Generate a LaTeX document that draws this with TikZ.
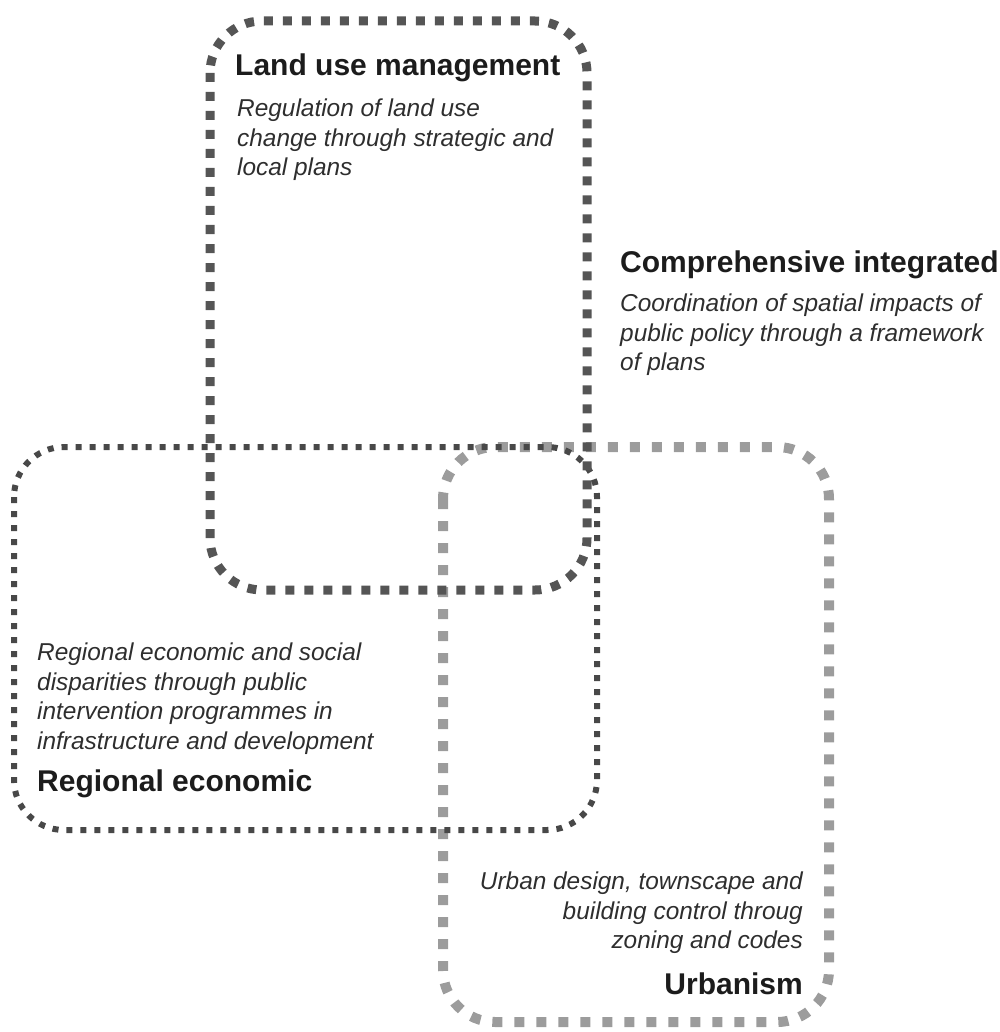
\documentclass[tikz,border=0pt]{standalone}
\usepackage{fontspec}
\setmainfont{Liberation Sans}
\usepackage{xcolor}
\definecolor{landgray}{HTML}{555555}
\definecolor{regiongray}{HTML}{484848}
\definecolor{urbangray}{HTML}{9C9C9C}
\definecolor{inkgray}{HTML}{1C1C1C}
\definecolor{descgray}{HTML}{2E2E2E}
\begin{document}
\begin{tikzpicture}[x=1pt,y=-1pt,
    title/.style={font=\bfseries\fontsize{30}{36}\selectfont,text=inkgray,inner sep=0pt},
    desc/.style={font=\itshape\fontsize{24.4}{29.5}\selectfont,text=descgray,inner sep=0pt},
    landbox/.style={draw=landgray,line width=9pt,dash pattern=on 9pt off 10pt,rounded corners=52pt},
    regionbox/.style={draw=regiongray,line width=6pt,dash pattern=on 6pt off 8pt,rounded corners=50pt},
    urbanbox/.style={draw=urbangray,line width=10pt,dash pattern=on 10pt off 12pt,rounded corners=52pt}]
      \useasboundingbox (0,0) rectangle (999,1032);
      % the three overlapping fields
      \draw[urbanbox] (443,447) rectangle (829,1022);
      \draw[regionbox] (14,447) rectangle (597,830);
      \draw[landbox] (210,21) rectangle (587,590);
      % land use management
      \node (landtitle) [title,anchor=base west] at (235,76) {Land use management};
      \node (landdesc) [desc,anchor=north west,align=left] at (237,99)
        {Regulation of land use\\change through strategic and\\local plans};
      % comprehensive integrated
      \node (comptitle) [title,anchor=base west] at (620,272) {Comprehensive integrated};
      \node (compdesc) [desc,anchor=north west,align=left] at (620,294)
        {Coordination of spatial impacts of\\public policy through a framework\\of plans};
      % regional economic
      \node (regiondesc) [desc,anchor=north west,align=left] at (37,643)
        {Regional economic and social\\disparities through public\\intervention programmes in\\infrastructure and development};
      \node (regiontitle) [title,anchor=base west] at (37,791) {Regional economic};
      % urbanism
      \node (urbandesc) [desc,anchor=north east,align=right] at (803,872)
        {Urban design, townscape and\\building control throug\\zoning and codes};
      \node (urbantitle) [title,anchor=base east] at (803,994) {Urbanism};
    \end{tikzpicture}
\end{document}
